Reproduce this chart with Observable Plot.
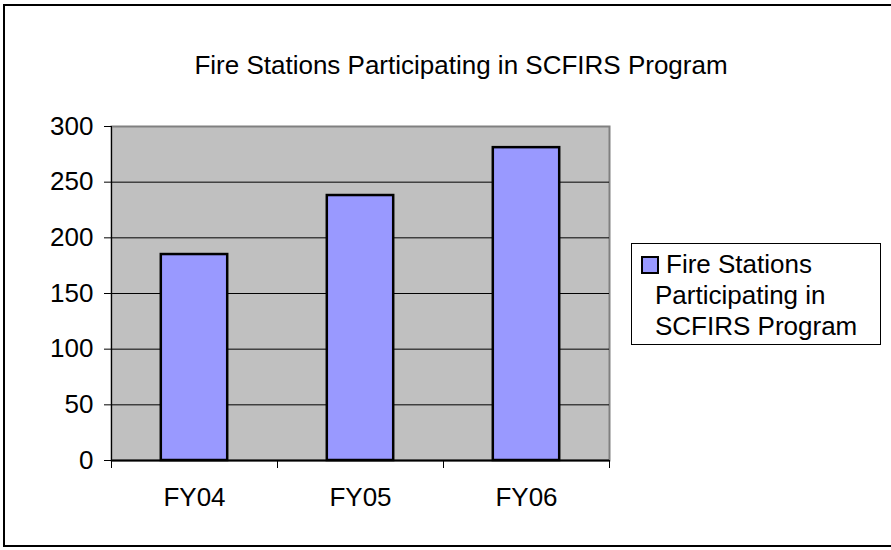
<!DOCTYPE html>
<html><head><meta charset="utf-8">
<script src="https://cdn.jsdelivr.net/npm/d3@7"></script>
<script src="https://cdn.jsdelivr.net/npm/@observablehq/plot@0.6"></script>
<style>
body{margin:0;background:#fff;font-family:"Liberation Sans",Arial,sans-serif;}
#wrap{position:relative;width:891px;height:550px;overflow:hidden;}
#border{position:absolute;left:3px;top:4px;width:1000px;height:543px;border:2px solid #000;box-sizing:border-box;}
#title{position:absolute;left:0;width:922px;top:50px;text-align:center;font-size:26px;line-height:31px;color:#000;}
#chart{position:absolute;left:0;top:0;}
#legend{position:absolute;left:631px;top:243px;width:250px;height:102px;border:1px solid #000;box-sizing:border-box;background:#fff;}
#sw{position:absolute;left:641px;top:256px;width:18px;height:18px;border:2px solid #000;box-sizing:border-box;background:#9999FF;}
.lg{position:absolute;font-size:26px;line-height:31px;white-space:nowrap;color:#000;}
</style></head>
<body>
<div id="wrap">
  <div id="border"></div>
  <div id="chart"></div>
  <div id="title"></div>
  <div id="legend"></div>
  <div id="sw"></div>
  <div id="lg"></div>
</div>
<script>
const title = "Fire Stations Participating in SCFIRS Program";
const categories = ["FY04", "FY05", "FY06"];
const values = [185, 238, 281];
const yTicks = [0, 50, 100, 150, 200, 250, 300];
const legendLines = ["Fire Stations", "Participating in", "SCFIRS Program"];

const data = categories.map((c, i) => ({c, i, v: values[i]}));
const xEdges = d3.range(categories.length + 1);

const chart = Plot.plot({
  width: 891, height: 550,
  marginLeft: 111, marginRight: 282, marginTop: 126, marginBottom: 90,
  style: {fontFamily: "'Liberation Sans', Arial, sans-serif", fontSize: "26px", background: "transparent", overflow: "visible", color: "#000"},
  x: {type: "linear", domain: [0, categories.length], axis: null},
  y: {domain: [0, 300], axis: null},
  marks: [
    Plot.frame({fill: "#C0C0C0", stroke: "#808080", strokeWidth: 2}),
    Plot.ruleY(yTicks.slice(1, -1), {stroke: "#000", strokeWidth: 1}),
    Plot.rectY(data, {x1: d => d.i + 0.3, x2: d => d.i + 0.7, y1: 0, y2: "v", fill: "#9999FF", stroke: "#000", strokeWidth: 2.5}),
    Plot.ruleX([0], {stroke: "#000", strokeWidth: 1}),
    Plot.ruleY([0], {stroke: "#000", strokeWidth: 2}),
    Plot.axisY(yTicks, {tickSize: 7, tickPadding: 11, stroke: "#000", fill: "#000", fontSize: 26, label: null}),
    Plot.axisX(xEdges, {tickSize: 8, tickFormat: () => "", stroke: "#000", label: null}),
    Plot.text(data, {x: d => d.i + 0.5, y: 0, text: "c", dy: 37, fontSize: 26, fill: "#000"})
  ]
});
document.getElementById("chart").appendChild(chart);
document.getElementById("title").textContent = title;
const lg = document.getElementById("lg");
legendLines.forEach((t, k) => {
  const d = document.createElement("div");
  d.className = "lg";
  d.style.left = (k === 0 ? 666 : 655) + "px";
  d.style.top = (249 + k * 31) + "px";
  d.textContent = t;
  lg.appendChild(d);
});
</script>
</body></html>
